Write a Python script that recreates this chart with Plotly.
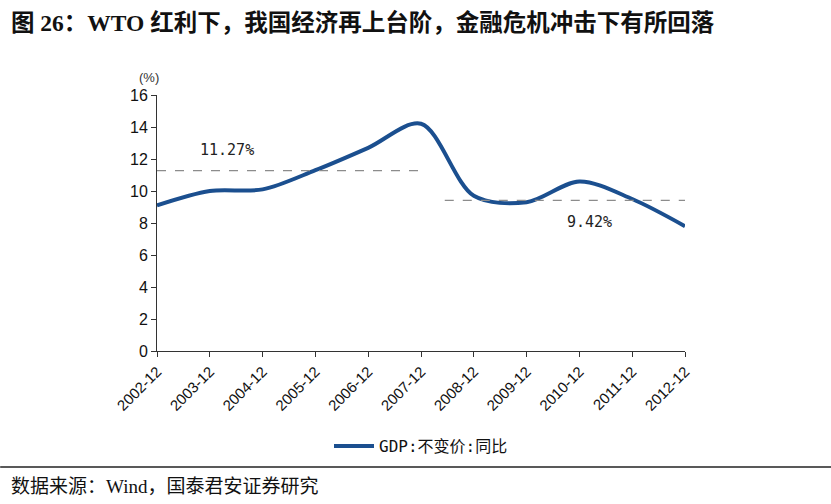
import plotly.graph_objects as go

categories = ["2002-12", "2003-12", "2004-12", "2005-12", "2006-12", "2007-12",
              "2008-12", "2009-12", "2010-12", "2011-12", "2012-12"]
gdp = [9.1, 10.0, 10.1, 11.3, 12.7, 14.2, 9.7, 9.3, 10.6, 9.5, 7.8]
avg_labels = ["11.27%", "9.42%"]
avg_values = [11.27, 9.42]
avg_ranges = [(0, 5), (5.45, 10)]
yticks = [0, 2, 4, 6, 8, 10, 12, 14, 16]

xs = list(range(len(categories)))

fig = go.Figure()
fig.add_trace(go.Scatter(
    x=xs, y=gdp, mode="lines", name="GDP:不变价:同比",
    line=dict(color="#1B4F8F", width=4, shape="spline", smoothing=0.9),
))

for (x0, x1), v in zip(avg_ranges, avg_values):
    fig.add_shape(type="line", x0=x0, x1=x1, y0=v, y1=v, xref="x", yref="y",
                  line=dict(color="#8C8C8C", width=1.2, dash="dash"))

fig.add_annotation(x=1.33, y=12.55, text=avg_labels[0], showarrow=False,
                   font=dict(size=15, color="#222222", family="DejaVu Sans Mono"))
fig.add_annotation(x=8.2, y=8.05, text=avg_labels[1], showarrow=False,
                   font=dict(size=15, color="#222222", family="DejaVu Sans Mono"))

fig.add_annotation(x=-0.015, y=1.07, xref="paper", yref="paper", text="(%)",
                   showarrow=False, xanchor="center", yanchor="middle",
                   font=dict(size=13, color="#333333"))

fig.add_annotation(x=-0.28, y=1.285, xref="paper", yref="paper",
                   text="<b>图 26：WTO 红利下，我国经济再上台阶，金融危机冲击下有所回落</b>",
                   showarrow=False, xanchor="left", yanchor="middle",
                   font=dict(size=23.5, color="#111111",
                             family="Liberation Serif, Noto Sans CJK SC"))
fig.add_annotation(x=-0.28, y=-0.531, xref="paper", yref="paper",
                   text="数据来源：Wind，国泰君安证券研究",
                   showarrow=False, xanchor="left", yanchor="middle",
                   font=dict(size=19, color="#111111",
                             family="Liberation Serif, Noto Sans CJK SC"))
fig.add_shape(type="line", xref="paper", yref="paper", x0=-0.297, x1=1.277,
              y0=-0.453, y1=-0.453, line=dict(color="#222222", width=1.5))

fig.update_layout(
    width=831, height=504,
    margin=dict(l=157, r=146, t=95, b=153, autoexpand=False),
    paper_bgcolor="white", plot_bgcolor="white",
    font=dict(family="Liberation Sans, Noto Sans CJK SC", color="#111111"),
    showlegend=True,
    legend=dict(x=0.5, y=-0.371, xanchor="center", yanchor="middle",
                orientation="h",
                font=dict(size=16, family="DejaVu Sans Mono, Noto Sans CJK SC"),
                itemwidth=40),
    xaxis=dict(range=[0, 10], tickmode="array", tickvals=xs, ticktext=categories,
               tickangle=-45, showgrid=False, zeroline=False, showline=True,
               linecolor="#333333", linewidth=1, ticks="outside", ticklen=5,
               tickcolor="#333333", tickfont=dict(size=15)),
    yaxis=dict(range=[0, 16], tickmode="array", tickvals=yticks,
               showgrid=False, zeroline=False, showline=True,
               linecolor="#333333", linewidth=1, ticks="outside", ticklen=5,
               tickcolor="#333333", tickfont=dict(size=16)),
)

fig.write_html("out.html", config={"displayModeBar": False},
               post_script="document.body.style.margin='0';")
